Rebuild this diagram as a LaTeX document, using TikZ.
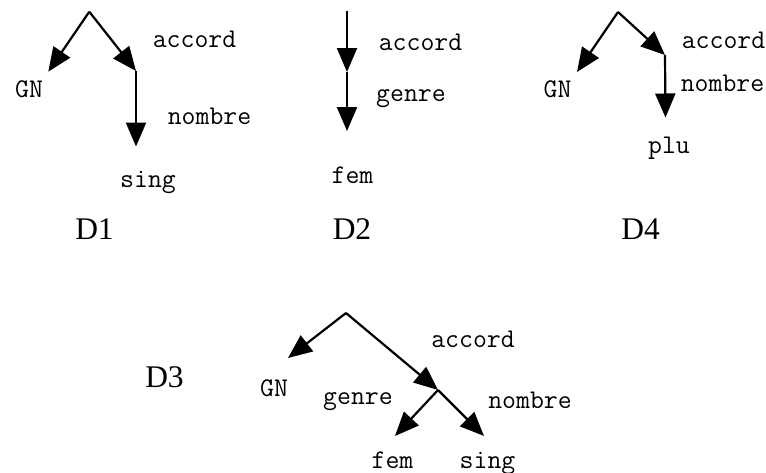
\documentclass[tikz,border=0pt]{standalone}
\usepackage{fontspec}
\setmainfont{Liberation Serif}
\usetikzlibrary{arrows.meta}
\tikzset{
  arr/.style={-{Triangle[length=24pt,width=20pt]}, line width=2.2pt, black},
  lbl/.style={font=\ttfamily\fontsize{27}{30}\selectfont, inner sep=0pt, anchor=center},
  dlbl/.style={font=\fontsize{31.5}{36}\selectfont, inner sep=0pt, anchor=center}
}
\begin{document}
\begin{tikzpicture}[x=1pt,y=-1pt]
\useasboundingbox (0,0) rectangle (766,472);
% ---------- D1 ----------
\coordinate (a1) at (89.3,11.7);
\coordinate (gn1) at (48.3,71.7);
\coordinate (m1) at (136,71);
\coordinate (s1) at (136,146.5);
\draw[arr] (a1) -- (gn1);
\draw[arr] (a1) -- (m1);
\draw[arr] (m1) -- (s1);
\node[lbl] (t1acc) at (194.5,39.5) {accord};
\node[lbl] (t1gn) at (29,89) {GN};
\node[lbl] (t1nom) at (209.5,116) {nombre};
\node[lbl] (t1sing) at (148,182) {sing};
\node[dlbl] (d1) at (94.5,229) {D1};
% ---------- D2 ----------
\coordinate (a2) at (347,11);
\coordinate (m2) at (347,72);
\coordinate (f2) at (347,131);
\draw[arr] (a2) -- (m2);
\draw[arr] (m2) -- (f2);
\node[lbl] (t2acc) at (420.5,42) {accord};
\node[lbl] (t2gen) at (411,99) {genre};
\node[lbl] (t2fem) at (352.5,175) {fem};
\node[dlbl] (d2) at (352,229) {D2};
% ---------- D4 ----------
\coordinate (a4) at (618,12);
\coordinate (gn4) at (577,72);
\coordinate (m4) at (665,55);
\coordinate (p4) at (665.5,117.5);
\draw[arr] (a4) -- (gn4);
\draw[arr] (a4) -- (m4);
\draw[arr] (m4) -- (p4);
\node[lbl] (t4acc) at (723.5,40) {accord};
\node[lbl] (t4nom) at (722.5,83) {nombre};
\node[lbl] (t4gn) at (557.5,89) {GN};
\node[lbl] (t4plu) at (669,148) {plu};
\node[dlbl] (d4) at (640.5,229) {D4};
% ---------- D3 ----------
\coordinate (a3) at (346,313);
\coordinate (gn3) at (288,358);
\coordinate (m3) at (438,390);
\coordinate (f3) at (395,436);
\coordinate (s3) at (484,436);
\draw[arr] (a3) -- (gn3);
\draw[arr] (a3) -- (m3);
\draw[arr] (m3) -- (f3);
\draw[arr] (m3) -- (s3);
\node[lbl] (t3acc) at (473,339) {accord};
\node[lbl] (t3gn) at (274,388) {GN};
\node[lbl] (t3gen) at (358,402) {genre};
\node[lbl] (t3nom) at (530,400) {nombre};
\node[lbl] (t3fem) at (392.5,460) {fem};
\node[lbl] (t3sing) at (487.5,463) {sing};
\node[dlbl] (d3) at (164.5,377) {D3};
\end{tikzpicture}
\end{document}
